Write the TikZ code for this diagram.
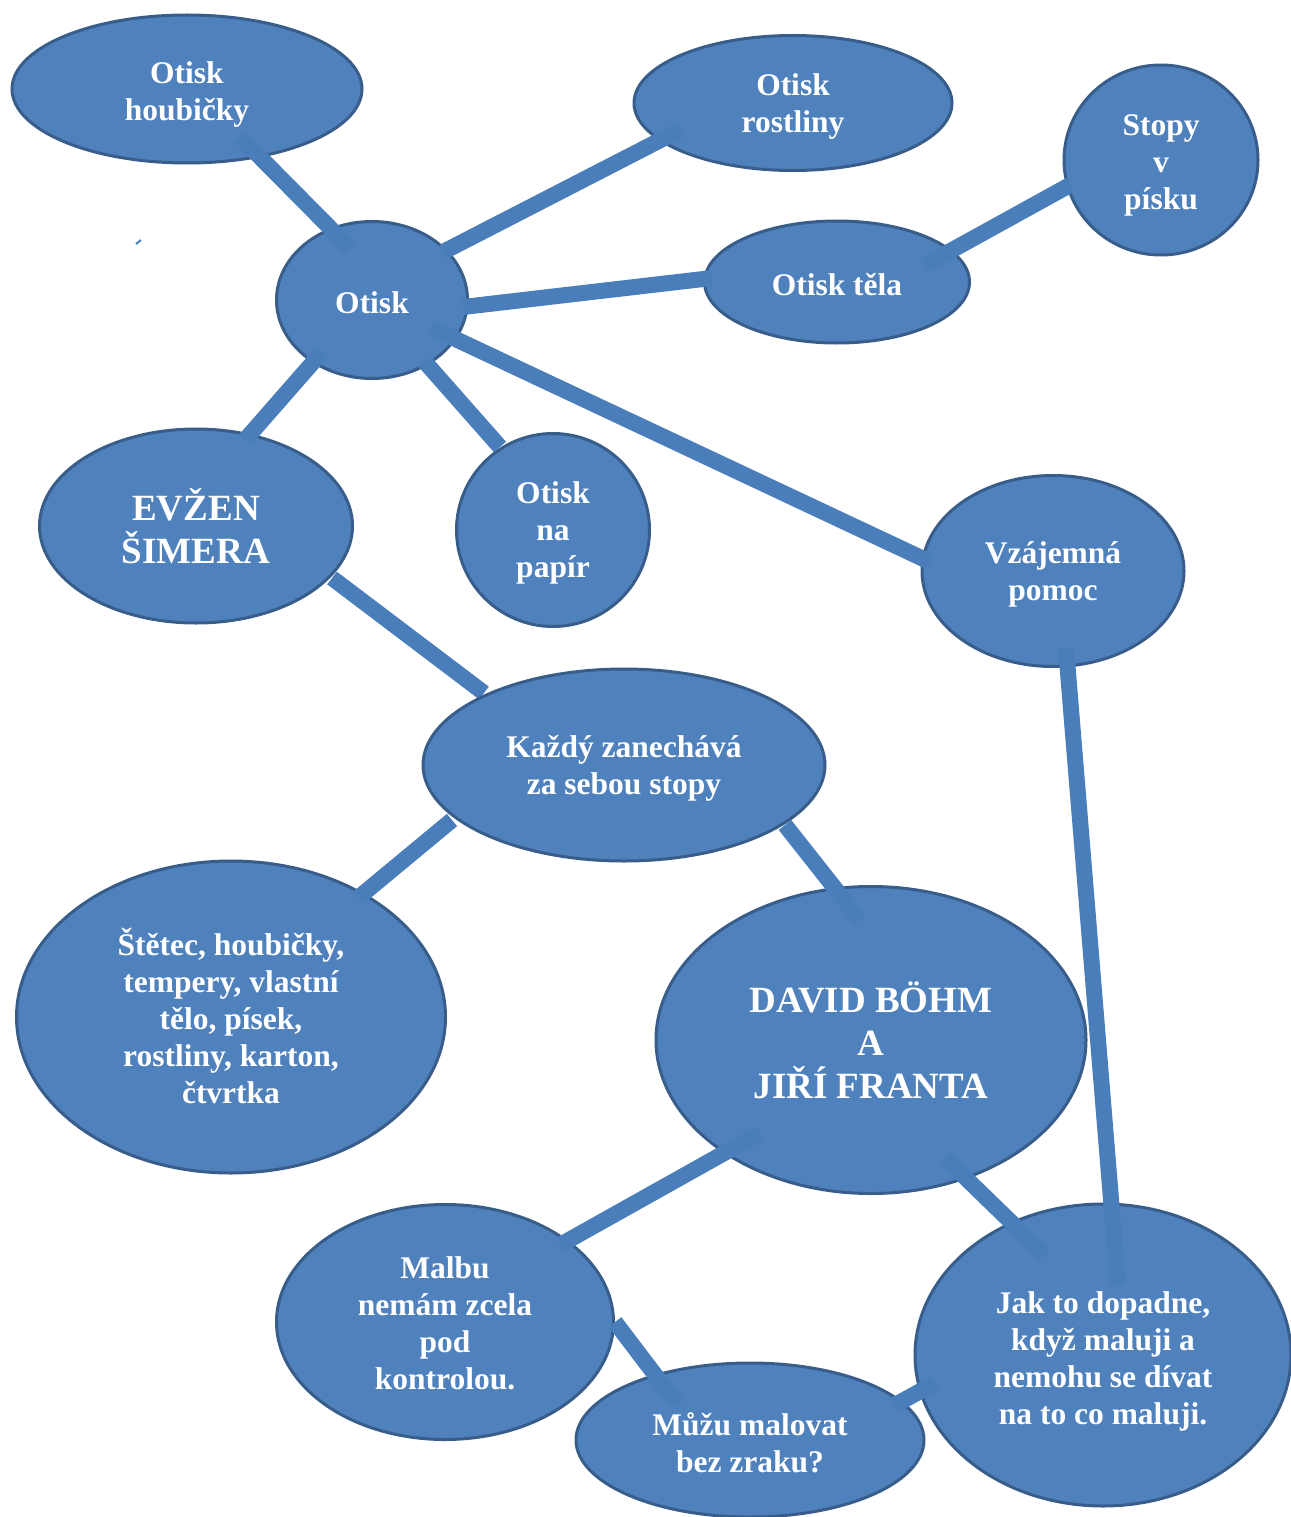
\documentclass[tikz,border=0pt]{standalone}
\usepackage{fontspec}
\setmainfont{Liberation Serif}
\usetikzlibrary{shapes.geometric,calc}
\definecolor{bfill}{HTML}{4F81BD}
\definecolor{bline}{HTML}{385D8A}
\definecolor{bbar}{HTML}{4A7EBB}
\pgfdeclarelayer{front}
\pgfsetlayers{main,front}
\tikzset{
  bub/.style={ellipse, fill=bfill, draw=bline, line width=3pt, inner sep=0pt},
  btext/.style={text=white, align=center, inner sep=0pt,
    font=\fontsize{31.5}{37}\selectfont\bfseries, yshift=-3pt},
  bigtext/.style={btext, font=\fontsize{37}{43}\selectfont\bfseries, yshift=3pt},
  bar/.style={draw=bbar, line width=16pt, line cap=butt},
}
\begin{document}
\begin{tikzpicture}[x=1pt,y=-1pt]
\useasboundingbox (0,0) rectangle (1290,1517);
% bubbles
\node[bub, minimum width=350, minimum height=148, label={[btext,yshift=-2pt]center:{Otisk\\houbičky}}] (hou) at (187,89) {};
\node[bub, minimum width=318, minimum height=135, label={[btext]center:{Otisk\\rostliny}}] (ros) at (793,103) {};
\node[bub, minimum width=194, minimum height=190, label={[btext,yshift=-2pt]center:{Stopy\\v\\písku}}] (sto) at (1161,160) {};
\node[bub, minimum width=191, minimum height=157, label={[btext]center:{Otisk}}] (oti) at (372,300) {};
\node[bub, minimum width=265, minimum height=122, label={[btext]center:{Otisk těla}}] (tel) at (837,282) {};
\node[bub, minimum width=313, minimum height=194, label={[bigtext]center:{EVŽEN\\ŠIMERA}}] (evz) at (196,526) {};
\node[bub, minimum width=193, minimum height=193, label={[btext]center:{Otisk\\na\\papír}}] (pap) at (553,530) {};
\node[bub, minimum width=262, minimum height=191, label={[btext]center:{Vzájemná\\pomoc}}] (vza) at (1053,571) {};
\node[bub, minimum width=429, minimum height=312, label={[btext,yshift=4pt]center:{Štětec, houbičky,\\tempery, vlastní\\tělo, písek,\\rostliny, karton,\\čtvrtka}}] (ste) at (231,1017) {};
\node[bub, minimum width=430, minimum height=307, label={[bigtext]center:{DAVID BÖHM\\A\\JIŘÍ FRANTA}}] (dav) at (871,1040) {};
\node[bub, minimum width=337, minimum height=235, label={[btext,yshift=2pt]center:{Malbu\\nemám zcela\\pod\\kontrolou.}}] (mal) at (445,1322) {};
\node[bub, minimum width=348, minimum height=154, label={[btext]center:{Můžu malovat\\bez zraku?}}] (muz) at (750,1440) {};
\node[bub, minimum width=376, minimum height=302, label={[btext,yshift=-3pt]center:{Jak to dopadne,\\když maluji a\\nemohu se dívat\\na to co maluji.}}] (jak) at (1103,1355) {};
\begin{pgfonlayer}{front}
\node[bub, minimum width=402, minimum height=192, label={[btext]center:{Každý zanechává\\za sebou stopy}}] (kaz) at (624,765) {};
\end{pgfonlayer}
% connectors
\draw[bar] ($(hou)+(53,48)$) -- ($(oti)+(-22,-52)$);
\draw[bar] ($(oti)+(71,-48)$) -- ($(ros)+(-113,27)$);
\draw[bar] ($(oti)+(91,7)$) -- ($(tel)+(-125,-4)$);
\draw[bar] ($(tel)+(88,-17)$) -- ($(sto)+(-91,25)$);
\draw[bar] ($(oti)+(60,28)$) -- ($(vza)+(-123,-9)$);
\draw[bar] ($(oti)+(-50,52)$) -- ($(evz)+(49,-86)$);
\draw[bar] ($(oti)+(53,62)$) -- ($(pap)+(-53,-83)$);
\draw[bar] ($(evz)+(136,52)$) -- ($(kaz)+(-140,-72)$);
\draw[bar] ($(kaz)+(-172,55)$) -- ($(ste)+(127,-119)$);
\draw[bar] ($(kaz)+(161,60)$) -- ($(dav)+(-11,-120)$);
\draw[bar] ($(vza)+(13,77)$) -- ($(jak)+(15,-70)$);
\draw[bar] ($(dav)+(-111,93)$) -- ($(mal)+(115,-77)$);
\draw[bar] ($(dav)+(74,118)$) -- ($(jak)+(-58,-100)$);
\draw[bar] ($(mal)+(170,0)$) -- ($(muz)+(-72,-35)$);
\draw[bar] ($(muz)+(145,-35)$) -- ($(jak)+(-168,28)$);
% stray mark
\coordinate (m1) at (136,244);
\coordinate (m2) at (141,240);
\draw[draw=bbar, line width=2pt] (m1) -- (m2);
\end{tikzpicture}
\end{document}
